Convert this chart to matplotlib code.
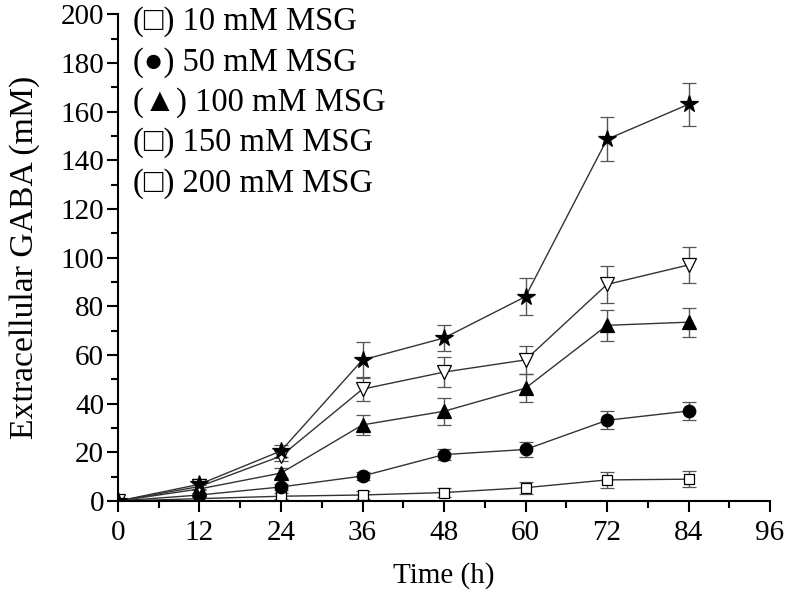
import matplotlib
matplotlib.use("Agg")
import matplotlib.pyplot as plt
import numpy as np

plt.rcParams['font.family'] = ['Liberation Serif', 'DejaVu Serif']

# data
time_h = [0, 12, 24, 36, 48, 60, 72, 84]

msg10 = [0, 1.0, 2.0, 2.5, 3.5, 5.5, 8.7, 9.0]
msg10_err = [0, 1.0, 1.2, 1.5, 2.0, 2.5, 3.2, 3.3]

msg50 = [0, 2.5, 5.8, 10.3, 19.1, 21.2, 33.2, 37.0]
msg50_err = [0, 1.0, 1.2, 1.5, 2.4, 3.0, 3.7, 3.8]

msg100 = [0, 5.0, 11.5, 31.3, 36.9, 46.4, 72.2, 73.5]
msg100_err = [0, 1.5, 2.0, 4.0, 5.5, 5.8, 6.5, 6.0]

msg150 = [0, 6.0, 18.5, 46.0, 53.0, 58.0, 89.0, 97.0]
msg150_err = [0, 1.5, 2.0, 5.0, 6.0, 5.7, 7.7, 7.4]

msg200 = [0, 6.9, 20.6, 58.0, 67.0, 84.0, 148.6, 163.0]
msg200_err = [0, 2.0, 2.5, 7.5, 5.5, 7.7, 9.0, 8.8]

legend_lines = ["(\u25a1) 10 mM MSG", "(\u25cf) 50 mM MSG", "(\u25b2) 100 mM MSG",
                "(\u25a1) 150 mM MSG", "(\u25a1) 200 mM MSG"]

fig = plt.figure(figsize=(7.93, 5.93), dpi=100)
ax = fig.add_axes([0.1488, 0.155, 0.8222, 0.821])

series = [
    (msg10, msg10_err, 's', 'white', 7),
    (msg50, msg50_err, 'o', 'black', 9),
    (msg100, msg100_err, '^', 'black', 10),
    (msg150, msg150_err, 'v', 'white', 10),
    (msg200, msg200_err, '*', 'black', 13),
]
for y, err, mk, fc, ms in series:
    ax.errorbar(time_h, y, yerr=err, color='#333333', lw=1.0, marker=mk,
                mfc=fc, mec='black', ms=ms, mew=0.9,
                ecolor='#555555', elinewidth=1.0, capsize=5, capthick=1.0)

ax.set_xlim(0, 96)
ax.set_ylim(0, 200)
ax.set_xticks(np.arange(0, 97, 12))
ax.set_xticks(np.arange(6, 97, 12), minor=True)
ax.set_yticks(np.arange(0, 201, 20))
ax.set_yticks(np.arange(10, 200, 20), minor=True)

ax.spines['right'].set_color('none')
ax.spines['top'].set_color('none')
ax.spines['left'].set_linewidth(1.5)
ax.spines['bottom'].set_linewidth(1.5)
ax.tick_params(which='major', direction='out', length=8, width=1.5, labelsize=21)
ax.tick_params(axis='x', which='major', pad=5.5)
ax.tick_params(axis='y', which='major', pad=2)
ax.tick_params(which='minor', direction='out', length=5, width=1.5)

ax.set_xlabel('Time (h)', fontsize=21, labelpad=12)
ax.set_ylabel('Extracellular GABA (mM)', fontsize=24.3, labelpad=15)

# legend as plain text lines
for i, s in enumerate(legend_lines):
    fig.text(133 / 793, 1 - (22 + i * 40.3) / 593, s, fontsize=23.5, va='center', ha='left')

fig.savefig('out.png', dpi=100)
